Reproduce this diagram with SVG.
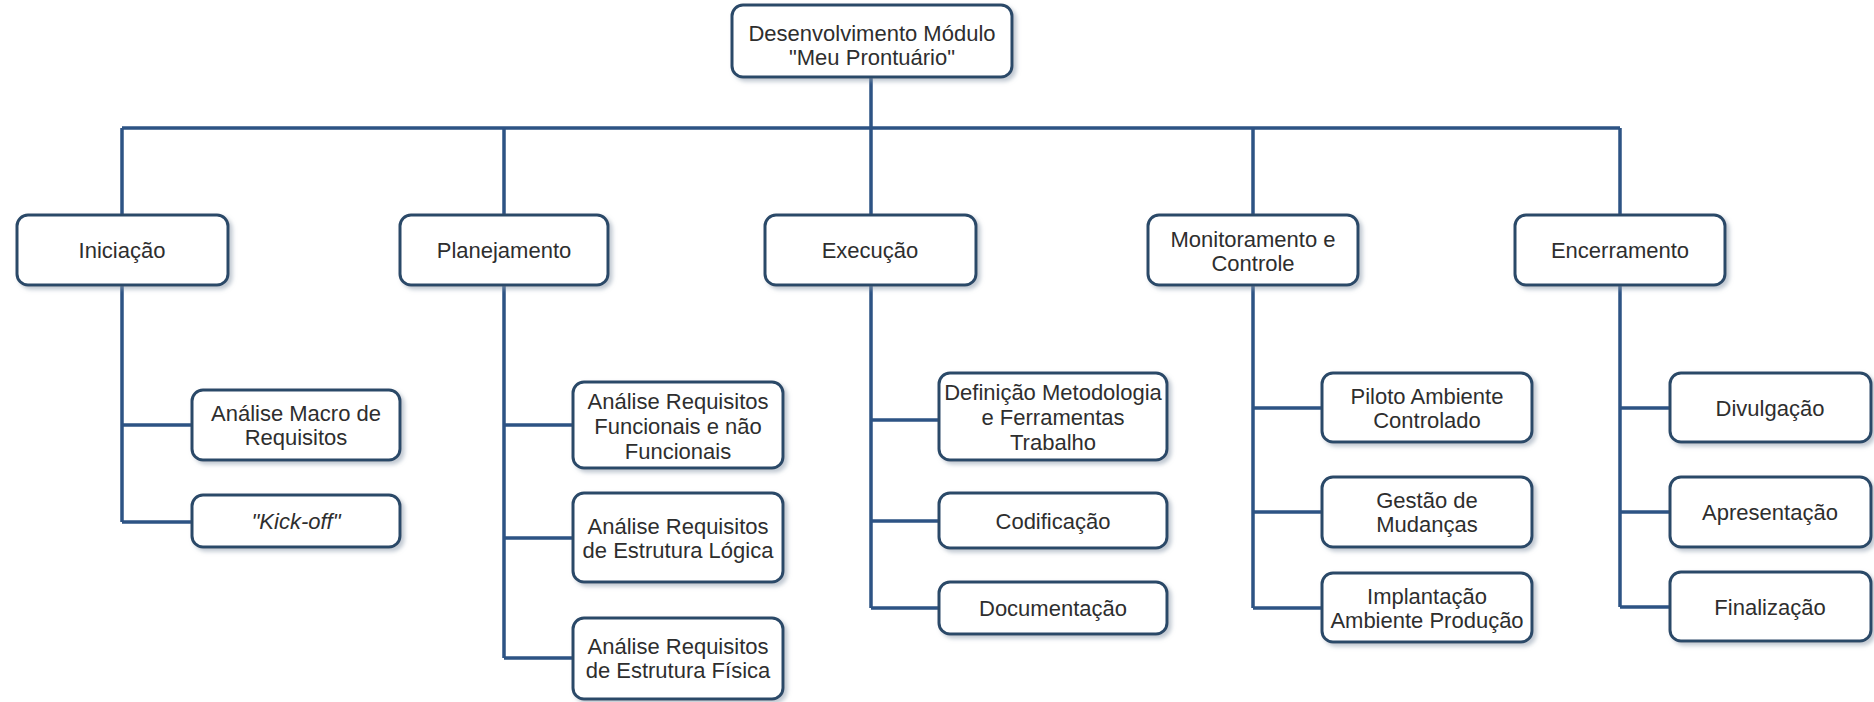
<svg xmlns="http://www.w3.org/2000/svg" width="1874" height="702" viewBox="0 0 1874 702">
<style>
.box{fill:#ffffff;stroke:#2c4968;stroke-width:3;filter:url(#sh)}
.t{font-family:"Liberation Sans",Arial,sans-serif;font-size:22px;fill:#2e2e2e;text-anchor:middle}
.it{font-style:italic}
.c{fill:none;stroke:#2d5384;stroke-width:3.5}
</style>
<defs>
<filter id="sh" x="-10%" y="-10%" width="125%" height="130%">
<feDropShadow dx="3" dy="3" stdDeviation="2" flood-color="#8a9aab" flood-opacity="0.55"/>
</filter>
</defs>
<rect width="1874" height="702" fill="#ffffff"/>
<g id="connectors">
<path class="c" d="M871 77V128M122 128H1620M122 128V215M504 128V215M871 128V215M1253 128V215M1620 128V215"/>
<path class="c" d="M122 285V522M122 425H192M122 522H192"/>
<path class="c" d="M504 285V658M504 425H573M504 538H573M504 658H573"/>
<path class="c" d="M871 285V608M871 420H939M871 521H939M871 608H939"/>
<path class="c" d="M1253 285V608M1253 408H1322M1253 512H1322M1253 608H1322"/>
<path class="c" d="M1620 285V607M1620 408H1670M1620 512H1670M1620 607H1670"/>
</g>
<g id="root">
<rect class="box" x="732" y="5" width="280" height="72" rx="11"/>
<text class="t" x="872" y="41">Desenvolvimento Módulo</text>
<text class="t" x="872" y="65">"Meu Prontuário"</text>
</g>
<g id="iniciacao">
<rect class="box" x="17" y="215" width="211" height="70" rx="11"/>
<text class="t" x="122" y="258">Iniciação</text>
</g>
<g id="planejamento">
<rect class="box" x="400" y="215" width="208" height="70" rx="11"/>
<text class="t" x="504" y="258">Planejamento</text>
</g>
<g id="execucao">
<rect class="box" x="765" y="215" width="211" height="70" rx="11"/>
<text class="t" x="870" y="258">Execução</text>
</g>
<g id="monitoramento">
<rect class="box" x="1148" y="215" width="210" height="70" rx="11"/>
<text class="t" x="1253" y="247">Monitoramento e</text>
<text class="t" x="1253" y="271">Controle</text>
</g>
<g id="encerramento">
<rect class="box" x="1515" y="215" width="210" height="70" rx="11"/>
<text class="t" x="1620" y="258">Encerramento</text>
</g>
<g id="analise-macro">
<rect class="box" x="192" y="390" width="208" height="70" rx="11"/>
<text class="t" x="296" y="421">Análise Macro de</text>
<text class="t" x="296" y="445">Requisitos</text>
</g>
<g id="kickoff">
<rect class="box" x="192" y="495" width="208" height="52" rx="11"/>
<text class="t it" x="296" y="529">"Kick-off"</text>
</g>
<g id="req-funcionais">
<rect class="box" x="573" y="382" width="210" height="86" rx="11"/>
<text class="t" x="678" y="409">Análise Requisitos</text>
<text class="t" x="678" y="434">Funcionais e não</text>
<text class="t" x="678" y="459">Funcionais</text>
</g>
<g id="req-logica">
<rect class="box" x="573" y="493" width="210" height="89" rx="11"/>
<text class="t" x="678" y="534">Análise Requisitos</text>
<text class="t" x="678" y="558">de Estrutura Lógica</text>
</g>
<g id="req-fisica">
<rect class="box" x="573" y="618" width="210" height="81" rx="11"/>
<text class="t" x="678" y="654">Análise Requisitos</text>
<text class="t" x="678" y="678">de Estrutura Física</text>
</g>
<g id="definicao">
<rect class="box" x="939" y="373" width="228" height="87" rx="11"/>
<text class="t" x="1053" y="400">Definição Metodologia</text>
<text class="t" x="1053" y="425">e Ferramentas</text>
<text class="t" x="1053" y="450">Trabalho</text>
</g>
<g id="codificacao">
<rect class="box" x="939" y="493" width="228" height="55" rx="11"/>
<text class="t" x="1053" y="529">Codificação</text>
</g>
<g id="documentacao">
<rect class="box" x="939" y="582" width="228" height="52" rx="11"/>
<text class="t" x="1053" y="616">Documentação</text>
</g>
<g id="piloto">
<rect class="box" x="1322" y="373" width="210" height="69" rx="11"/>
<text class="t" x="1427" y="404">Piloto Ambiente</text>
<text class="t" x="1427" y="428">Controlado</text>
</g>
<g id="gestao">
<rect class="box" x="1322" y="477" width="210" height="70" rx="11"/>
<text class="t" x="1427" y="508">Gestão de</text>
<text class="t" x="1427" y="532">Mudanças</text>
</g>
<g id="implantacao">
<rect class="box" x="1322" y="573" width="210" height="69" rx="11"/>
<text class="t" x="1427" y="604">Implantação</text>
<text class="t" x="1427" y="628">Ambiente Produção</text>
</g>
<g id="divulgacao">
<rect class="box" x="1670" y="373" width="201" height="69" rx="11"/>
<text class="t" x="1770" y="416">Divulgação</text>
</g>
<g id="apresentacao">
<rect class="box" x="1670" y="477" width="201" height="70" rx="11"/>
<text class="t" x="1770" y="520">Apresentação</text>
</g>
<g id="finalizacao">
<rect class="box" x="1670" y="572" width="201" height="69" rx="11"/>
<text class="t" x="1770" y="615">Finalização</text>
</g>
</svg>
